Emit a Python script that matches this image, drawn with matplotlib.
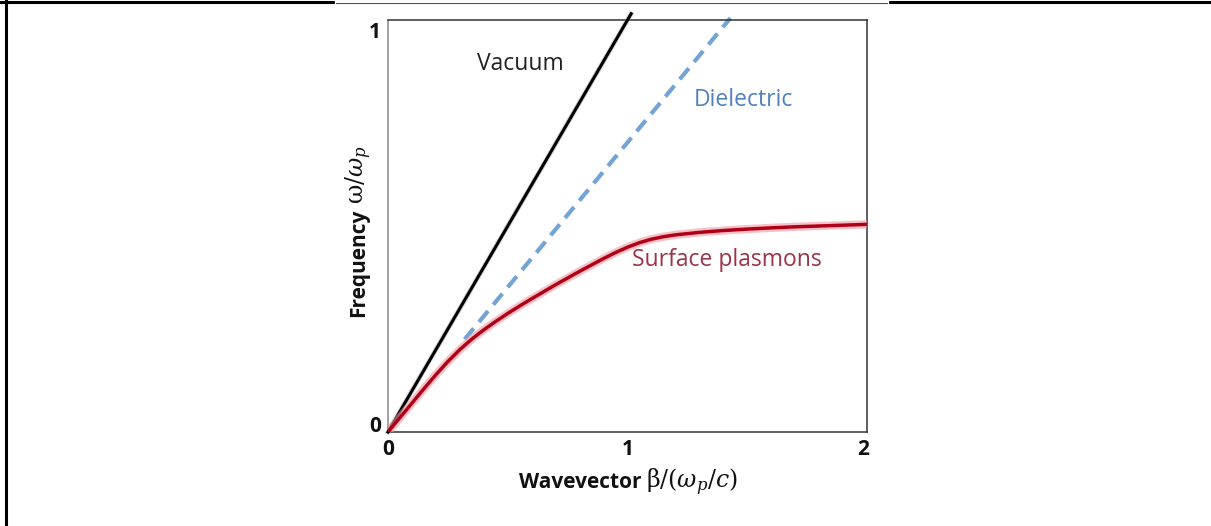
import matplotlib
matplotlib.use("Agg")
import matplotlib.pyplot as plt
from matplotlib.lines import Line2D
from matplotlib.transforms import ScaledTranslation

plt.rcParams["mathtext.fontset"] = "dejavuserif"

# Light lines: (beta, omega) end points
vacuum_beta = [0.0, 1.015]
vacuum_omega = [0.0, 1.015]
dielectric_beta = [0.32, 1.43]
dielectric_omega = [0.225, 1.005]

# Surface plasmon dispersion
sp_beta = [0.0, 0.05, 0.10, 0.15, 0.20, 0.25, 0.30, 0.35, 0.40, 0.45, 0.50,
           0.55, 0.60, 0.65, 0.70, 0.75, 0.80, 0.85, 0.90, 0.95, 1.00, 1.05,
           1.10, 1.15, 1.20, 1.30, 1.40, 1.50, 1.60, 1.70, 1.80, 1.90, 2.00]
sp_omega = [0.0, 0.035, 0.070, 0.105, 0.139, 0.171, 0.200, 0.2255, 0.248, 0.2685, 0.2878,
            0.306, 0.3235, 0.3405, 0.3575, 0.3738, 0.390, 0.4055, 0.421, 0.4355, 0.4485,
            0.4595, 0.468, 0.474, 0.4785, 0.4845, 0.489, 0.4925, 0.4955, 0.498, 0.500,
            0.502, 0.504]

x_ticks = [0, 1, 2]
y_ticks = [0, 1]

W, H, DPI = 1211, 526, 100
fig = plt.figure(figsize=(W / DPI, H / DPI), dpi=DPI)

# page border lines
fig.add_artist(Line2D([0, 1], [1 - 2 / H, 1 - 2 / H], color="black", lw=2.2,
                      transform=fig.transFigure))
fig.add_artist(Line2D([336 / W, 887 / W], [1 - 2 / H, 1 - 2 / H], color="white", lw=2.4,
                      transform=fig.transFigure))
fig.add_artist(Line2D([336 / W, 887 / W], [1 - 3 / H, 1 - 3 / H], color="#555555", lw=0.8,
                      transform=fig.transFigure))
fig.add_artist(Line2D([6 / W, 6 / W], [0, 1 - 1 / H], color="black", lw=2.2,
                      transform=fig.transFigure))

ax = fig.add_axes([388 / W, 1 - 432 / H, 479 / W, 412 / H])
ax.set_xlim(0, 2)
ax.set_ylim(0, 1)
for s in ax.spines.values():
    s.set_color("#333333")
    s.set_linewidth(1.1)
ax.spines["left"].set_color("#888888")

ax.set_xticks(x_ticks)
ax.set_yticks(y_ticks)
ax.set_xticklabels([str(t) for t in x_ticks], fontsize=15, fontweight="bold",
                   family="Open Sans")
ax.set_yticklabels([str(t) for t in y_ticks], fontsize=15, fontweight="bold",
                   family="Open Sans")
ax.tick_params(length=0, pad=5, colors="#111111")

# nudge end labels inward a little
yl = ax.get_yticklabels()
yl[0].set_transform(yl[0].get_transform() + ScaledTranslation(0, 6 / 72, fig.dpi_scale_trans))
yl[1].set_transform(yl[1].get_transform() + ScaledTranslation(0, -7 / 72, fig.dpi_scale_trans))
xl = ax.get_xticklabels()
xl[2].set_transform(xl[2].get_transform() + ScaledTranslation(-3 / 72, 0, fig.dpi_scale_trans))

# dielectric light line
ax.plot(dielectric_beta, dielectric_omega, color="#74a4d4", lw=3.0,
        dashes=(3.4, 2.0), solid_capstyle="butt", clip_on=False, zorder=2)
# vacuum light line
ax.plot(vacuum_beta, vacuum_omega, color="#888888", lw=3.6, alpha=0.35,
        clip_on=False, zorder=3)
ax.plot(vacuum_beta, vacuum_omega, color="black", lw=2.2, clip_on=False, zorder=3)
# surface plasmon polariton
ax.plot(sp_beta, sp_omega, color="#f39aa2", lw=6.0, alpha=0.6,
        solid_capstyle="round", solid_joinstyle="round", zorder=4)
ax.plot(sp_beta, sp_omega, color="#b00018", lw=2.5,
        solid_capstyle="round", solid_joinstyle="round", zorder=5)

ax.text(0.276, 0.893, "Vacuum", transform=ax.transAxes, fontsize=16.5,
        family="Open Sans", color="#222222", ha="center", va="center")
ax.text(0.741, 0.806, "Dielectric", transform=ax.transAxes, fontsize=16.5,
        family="Open Sans", color="#4f81bd", ha="center", va="center")
ax.text(0.708, 0.417, "Surface plasmons", transform=ax.transAxes, fontsize=16.5,
        family="Open Sans", color="#9c3346", ha="center", va="center")

# axis titles: bold word followed by the math expression on the same baseline
x_base = 1 - 488 / H
xt = fig.text(519 / W, x_base, "Wavevector", fontsize=15, fontweight="bold",
              family="Open Sans", color="#111111", ha="left", va="baseline")
y_base = 364 / W
yt = fig.text(y_base, 1 - 317 / H, "Frequency", fontsize=15, fontweight="bold",
              family="Open Sans", color="#111111", rotation=90,
              rotation_mode="anchor", ha="left", va="baseline")

fig.canvas.draw()
bx = xt.get_window_extent()
fig.text((bx.x1 + 5) / W, x_base, r"β/($\omega_p/c$)", fontsize=17,
         family="DejaVu Serif", color="#111111", ha="left", va="baseline")
by = yt.get_window_extent()
fig.text(y_base, (by.y1 + 5) / H, r"ω/$\omega_p$", fontsize=17,
         family="DejaVu Serif", color="#111111", rotation=90,
         rotation_mode="anchor", ha="left", va="baseline")

fig.savefig("out.png", dpi=DPI)
